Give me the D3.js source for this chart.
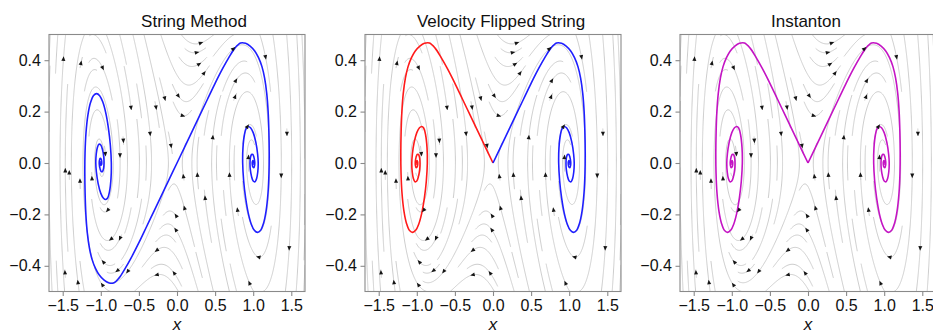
<!DOCTYPE html>
<html>
<head>
<meta charset="utf-8">
<script src="https://cdn.jsdelivr.net/npm/d3@7"></script>
<style>
  body { margin: 0; background: #fff; }
  svg { display: block; font-family: "Liberation Sans", Arial, Helvetica, sans-serif; }
</style>
</head>
<body>
<svg id="chart" width="933" height="333"></svg>
<script>
// ---- data -------------------------------------------------------------
const panelTitles = ["String Method", "Velocity Flipped String", "Instanton"];
const xTicks = [-1.5, -1.0, -0.5, 0.0, 0.5, 1.0, 1.5];
const yTicks = [-0.4, -0.2, 0.0, 0.2, 0.4];
const xDomain = [-1.68, 1.68];
const yDomain = [-0.5, 0.5];

// damped double-well flow: x' = y, y' = -k x (x^2 - 1) - gamma y
const wellStiffness = 1.0;
const damping = 0.5;

// relaxation path from the saddle (0,0) into the right well (1,0)
const relaxPath = [
  [0, 0], [0.1, 0.062], [0.2, 0.124], [0.3, 0.186], [0.4, 0.248], [0.5, 0.31],
  [0.6, 0.368], [0.68, 0.41], [0.76, 0.447], [0.834, 0.467], [0.9, 0.466],
  [0.96, 0.455], [1.02, 0.436], [1.07, 0.41], [1.115, 0.375], [1.15, 0.33],
  [1.178, 0.27], [1.196, 0.2], [1.206, 0.12], [1.21, 0.04], [1.207, -0.04],
  [1.195, -0.115], [1.17, -0.185], [1.135, -0.235], [1.095, -0.263], [1.055, -0.27],
  [1.015, -0.262], [0.975, -0.238], [0.935, -0.195], [0.9, -0.135], [0.875, -0.07],
  [0.862, 0.0], [0.866, 0.06], [0.885, 0.11], [0.91, 0.136], [0.935, 0.142],
  [0.965, 0.137], [1.0, 0.118], [1.035, 0.08], [1.058, 0.035], [1.066, 0.0],
  [1.06, -0.035], [1.045, -0.06], [1.025, -0.073], [1.0, -0.07], [0.978, -0.052],
  [0.962, -0.025], [0.958, 0.0], [0.963, 0.02], [0.978, 0.033], [0.995, 0.033],
  [1.01, 0.022], [1.02, 0.005], [1.018, -0.01], [1.008, -0.018], [0.995, -0.015],
  [0.988, -0.005], [0.99, 0.006], [1.0, 0.009], [1.007, 0.003], [1.004, -0.004],
  [0.998, -0.003]
];

// positions of the streamline arrows
const arrowSeeds = [
  [-1.49, 0.405], [-1.26, 0.389], [-0.975, 0.37], [0.313, 0.467], [0.26, 0.43],
  [0.29, 0.385], [0.356, 0.35], [0.741, 0.445], [1.162, 0.412], [0.773, 0.321],
  [0.763, 0.258], [0.018, 0.261], [-0.16, 0.251], [-0.275, 0.216], [-0.603, 0.215],
  [0.076, 0.184], [-0.353, 0.114], [-0.704, 0.087], [-0.078, 0.067], [0.47, 0.1],
  [1.443, 0.114], [0.938, 0.023], [0.925, 0.142], [-0.94, 0.035], [-0.748, 0.03],
  [-1.466, -0.029], [-1.414, -0.037], [-1.273, -0.069], [-1.116, -0.06], [0.084, -0.052],
  [0.268, -0.046], [0.689, -0.046], [1.368, -0.049], [0.369, -0.136], [0.098, -0.175],
  [0.794, -0.182], [-0.91, -0.184], [-0.012, -0.205], [-0.016, -0.26], [-0.866, -0.296],
  [-0.748, -0.293], [-0.266, -0.34], [1.473, -0.331], [1.07, -0.366], [-0.967, -0.385],
  [-1.47, -0.426], [-0.783, -0.419], [-0.647, -0.422], [-0.266, -0.435], [-0.038, -0.428],
  [-1.3, -0.464], [-0.98, -0.474], [0.951, -0.467]
];

// ---- layout -----------------------------------------------------------
const panelLeft = [49, 365, 680];
const panelTop = 34.5;
const W = 256, H = 257;
const titleCenter = [194, 501, 806];

const x = d3.scaleLinear().domain(xDomain).range([0, W]);
const y = d3.scaleLinear().domain(yDomain).range([H, 0]);

// ---- streamlines (density-masked tracing, as in a streamplot) -------
const NM = 30;
const mask = new Int32Array(NM * NM);
const dxD = xDomain[1] - xDomain[0], dyD = yDomain[1] - yDomain[0];

function field(u, v) {
  const px = xDomain[0] + u * dxD, py = yDomain[0] + v * dyD;
  const fx = py;
  const fy = -wellStiffness * px * (px * px - 1) - damping * py;
  const du = fx / dxD, dv = fy / dyD;
  const s = Math.hypot(du, dv);
  if (s < 1e-9) return null;
  return [du / s, dv / s];
}
function cellOf(u, v) {
  const i = Math.min(NM - 1, Math.max(0, Math.round(u * (NM - 1))));
  const j = Math.min(NM - 1, Math.max(0, Math.round(v * (NM - 1))));
  return j * NM + i;
}
const ds = 0.004, maxLength = 4.0, minLength = 0.1;

function integrate(u, v, sign, startCell, id, marked) {
  let cur = startCell, s = 0;
  const pts = [[u, v]];
  const h = ds * sign;
  while (s < maxLength) {
    const k1 = field(u, v); if (!k1) break;
    const k2 = field(u + h / 2 * k1[0], v + h / 2 * k1[1]); if (!k2) break;
    const k3 = field(u + h / 2 * k2[0], v + h / 2 * k2[1]); if (!k3) break;
    const k4 = field(u + h * k3[0], v + h * k3[1]); if (!k4) break;
    const nu = u + h / 6 * (k1[0] + 2 * k2[0] + 2 * k3[0] + k4[0]);
    const nv = v + h / 6 * (k1[1] + 2 * k2[1] + 2 * k3[1] + k4[1]);
    if (nu < 0 || nu > 1 || nv < 0 || nv > 1) {
      // clip the last step to the domain edge
      let t = 1;
      if (nu < 0) t = Math.min(t, u / (u - nu));
      if (nu > 1) t = Math.min(t, (1 - u) / (nu - u));
      if (nv < 0) t = Math.min(t, v / (v - nv));
      if (nv > 1) t = Math.min(t, (1 - v) / (nv - v));
      pts.push([u + t * (nu - u), v + t * (nv - v)]);
      s += ds * t;
      break;
    }
    const c = cellOf(nu, nv);
    if (c !== cur) {
      if (mask[c]) break;
      mask[c] = id; marked.push(c); cur = c;
    }
    pts.push([nu, nv]);
    s += ds; u = nu; v = nv;
  }
  return { pts, s };
}

let lineId = 0;
function traceLine(u0, v0, forced) {
  const c0 = cellOf(u0, v0);
  if (!forced && mask[c0]) return null;
  const id = ++lineId, marked = [];
  if (!mask[c0]) { mask[c0] = id; marked.push(c0); }
  const back = integrate(u0, v0, -1, c0, id, marked);
  const fwd = integrate(u0, v0, 1, c0, id, marked);
  if (!forced && back.s + fwd.s < minLength) {
    marked.forEach(c => { mask[c] = 0; });
    return null;
  }
  return back.pts.reverse().concat(fwd.pts.slice(1))
    .map(p => [xDomain[0] + p[0] * dxD, yDomain[0] + p[1] * dyD]);
}

const toUnit = p => [(p[0] - xDomain[0]) / dxD, (p[1] - yDomain[0]) / dyD];
const edgeDist = q => Math.min(q[0], 1 - q[0], q[1], 1 - q[1]);

const streamlines = [];
// lines through each arrow, outermost first
arrowSeeds.map(toUnit)
  .sort((a, b) => edgeDist(a) - edgeDist(b))
  .forEach(q => {
    const l = traceLine(q[0], q[1], true);
    if (l) streamlines.push(l);
  });
// fill the remaining empty cells, spiralling in from the border
(function () {
  let xf = 0, yf = 1, xl = NM - 1, yl = NM - 1, i = 0, j = 0, dir = 0;
  for (let n = 0; n < NM * NM; n++) {
    const l = traceLine(i / (NM - 1), j / (NM - 1), false);
    if (l) streamlines.push(l);
    if (dir === 0) { i++; if (i >= xl) { xl--; dir = 1; } }
    else if (dir === 1) { j++; if (j >= yl) { yl--; dir = 2; } }
    else if (dir === 2) { i--; if (i <= xf) { xf++; dir = 3; } }
    else { j--; if (j <= yf) { yf++; dir = 0; } }
  }
})();

// ---- paths per panel --------------------------------------------------
const pointMirror = relaxPath.map(d => [-d[0], -d[1]]).reverse();
const leftMirror = relaxPath.map(d => [-d[0], d[1]]);
const panelPaths = [
  [{ pts: pointMirror.concat(relaxPath.slice(1)), color: "#1f1fff" }],
  [{ pts: leftMirror, color: "#ff1a1a" }, { pts: relaxPath, color: "#1f1fff" }],
  [{ pts: leftMirror, color: "#c414c4" }, { pts: relaxPath, color: "#c414c4" }]
];

// ---- drawing ----------------------------------------------------------
const svg = d3.select("#chart");
const line = d3.line().x(d => x(d[0])).y(d => y(d[1]));
const smooth = d3.line().x(d => x(d[0])).y(d => y(d[1])).curve(d3.curveCatmullRom.alpha(0.5));
const fmt = d3.format(".1f");

panelTitles.forEach((title, k) => {
  const g = svg.append("g").attr("transform", `translate(${panelLeft[k]},${panelTop})`);

  g.append("defs").append("clipPath").attr("id", `clip${k}`)
    .append("rect").attr("width", W).attr("height", H);
  const plot = g.append("g").attr("clip-path", `url(#clip${k})`);

  plot.selectAll("path.stream").data(streamlines).join("path")
    .attr("class", "stream")
    .attr("d", line)
    .attr("fill", "none")
    .attr("stroke", "#cdcdcd")
    .attr("stroke-width", 1);

  plot.selectAll("path.traj").data(panelPaths[k]).join("path")
    .attr("class", "traj")
    .attr("d", d => smooth(d.pts))
    .attr("fill", "none")
    .attr("stroke", d => d.color)
    .attr("stroke-width", 1.6)
    .attr("stroke-linejoin", "round");

  // arrow heads along the flow
  plot.selectAll("path.arrow").data(arrowSeeds).join("path")
    .attr("class", "arrow")
    .attr("d", d => {
      const fx = d[1];
      const fy = -wellStiffness * d[0] * (d[0] * d[0] - 1) - damping * d[1];
      let ux = x(d[0] + fx * 1e-3) - x(d[0]);
      let uy = y(d[1] + fy * 1e-3) - y(d[1]);
      const n = Math.hypot(ux, uy); ux /= n; uy /= n;
      const cx = x(d[0]), cy = y(d[1]);
      const tipX = cx + ux * 2.6, tipY = cy + uy * 2.6;
      const bx = cx - ux * 2.0, by = cy - uy * 2.0;
      const hw = 2.0;
      return `M${tipX},${tipY}L${bx - uy * hw},${by + ux * hw}L${bx + uy * hw},${by - ux * hw}Z`;
    })
    .attr("fill", "#151515");

  // frame
  g.append("rect").attr("width", W).attr("height", H)
    .attr("fill", "none").attr("stroke", "#8a8a8a").attr("stroke-width", 1.1);

  const xa = g.append("g").attr("transform", `translate(0,${H})`)
    .call(d3.axisBottom(x).tickValues(xTicks).tickFormat(fmt).tickSize(4.5).tickPadding(4).tickSizeOuter(0));
  const ya = g.append("g")
    .call(d3.axisLeft(y).tickValues(yTicks).tickFormat(fmt).tickSize(4.5).tickPadding(3.6).tickSizeOuter(0));
  [xa, ya].forEach(a => {
    a.select(".domain").remove();
    a.selectAll(".tick line").attr("stroke", "#8a8a8a").attr("stroke-width", 1.1);
    a.selectAll(".tick text").attr("fill", "#111").attr("font-size", 16)
      .attr("font-family", '"Liberation Sans", Arial, Helvetica, sans-serif');
  });

  svg.append("text")
    .attr("x", titleCenter[k]).attr("y", 27)
    .attr("text-anchor", "middle").attr("font-size", 17).attr("fill", "#111")
    .text(title);

  svg.append("text")
    .attr("x", panelLeft[k] + W / 2).attr("y", 330)
    .attr("text-anchor", "middle").attr("font-size", 17).attr("font-style", "italic").attr("fill", "#111")
    .text("x");
});
</script>
</body>
</html>
